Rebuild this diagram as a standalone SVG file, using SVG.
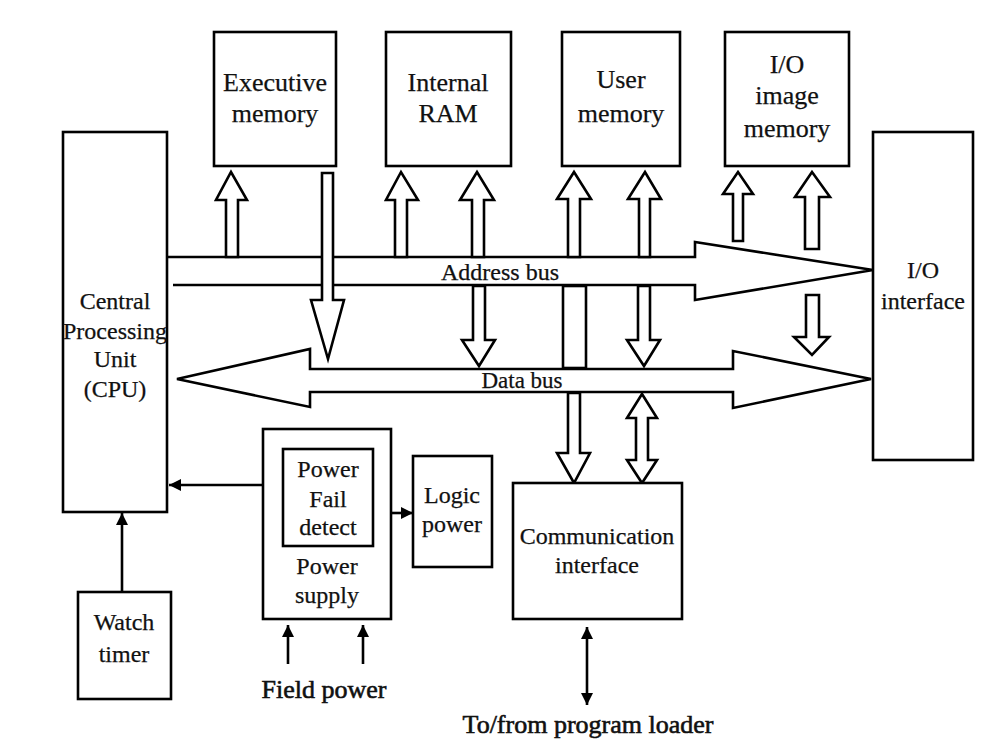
<svg xmlns="http://www.w3.org/2000/svg" width="999" height="749" viewBox="0 0 999 749">
<defs>
<style>
.box{fill:#fff;stroke:#000;stroke-width:2.6}
.bus{fill:#fff;stroke:#000;stroke-width:2.6;stroke-linejoin:miter}
.blk{fill:#fff;stroke:#000;stroke-width:2.6;stroke-linejoin:miter}
.thin{fill:none;stroke:#000;stroke-width:2.6}
.t{font-family:"Liberation Serif","Times New Roman",serif;font-size:24px;text-anchor:middle;fill:#111;stroke:#111;stroke-width:0.25}
.top{font-size:26px}
.big{font-size:26px;stroke-width:0.6}
</style>
<marker id="ah" viewBox="0 0 10 10" refX="10" refY="5" markerWidth="13" markerHeight="12" markerUnits="userSpaceOnUse" orient="auto-start-reverse">
<path d="M0,0 L10,5 L0,10 Z" fill="#000"/>
</marker>
</defs>
<rect width="999" height="749" fill="#fff"/>

<g id="connectors">
<path id="address-bus" class="bus" d="M167,257 H695 V242 L873,270 L695,300 V285 H173"/>
<path id="data-bus" class="bus" d="M310,369 V349 L177,379 L310,407 V392 H733 V408 L871,379 L733,351 V369 Z"/>
<polygon class="blk" points="226,257 226,200 216,200 231,172 247,200 238,200 238,257"/>
<polygon class="blk" points="395,257 395,200 386,200 401,172 418,200 407,200 407,257"/>
<polygon class="blk" points="472,257 472,200 460,200 477,172 494,200 484,200 484,257"/>
<polygon class="blk" points="568,257 568,199 557,199 574,172 591,199 580,199 580,257"/>
<polygon class="blk" points="639,257 639,199 628,199 645,172 661,199 650,199 650,257"/>
<polygon class="blk" points="733,241 733,194 723,194 738,172 753,194 743,194 743,241"/>
<polygon class="blk" points="805,249 805,197 795,197 812,172 830,197 819,197 819,249"/>
<polygon class="blk" points="322,173 333,173 333,300 344,300 328,359 311,300 322,300"/>
<polygon class="blk" points="473,286 485,286 485,340 495,340 479,366 462,340 473,340"/>
<rect class="blk" x="563" y="286" width="23" height="82"/>
<polygon class="blk" points="638,286 650,286 650,340 660,340 644,366 627,340 638,340"/>
<polygon class="blk" points="806,295 819,295 819,337 829,337 812,355 794,337 806,337"/>
<polygon class="blk" points="568,393 580,393 580,453 590,453 574,483 557,453 568,453"/>
<polygon class="blk" points="642,394 657,418 648,418 648,460 657,460 642,483 627,460 636,460 636,418 627,418"/>
<line class="thin" x1="283" y1="485" x2="169" y2="485" marker-end="url(#ah)"/>
<line class="thin" x1="391" y1="513" x2="413" y2="513" marker-end="url(#ah)"/>
<line class="thin" x1="122" y1="592" x2="122" y2="513" marker-end="url(#ah)"/>
<line class="thin" x1="288" y1="664" x2="288" y2="625" marker-end="url(#ah)"/>
<line class="thin" x1="363" y1="664" x2="363" y2="625" marker-end="url(#ah)"/>
<line class="thin" x1="587" y1="627" x2="587" y2="705" marker-start="url(#ah)" marker-end="url(#ah)"/>
<text class="t" x="500" y="280">Address bus</text>
<text class="t" x="522" y="388" style="font-size:23px">Data bus</text>
</g>

<g id="executive-memory">
<rect class="box" x="214" y="32" width="122" height="134"/>
<text class="t top" x="275" y="91">Executive</text>
<text class="t top" x="275" y="122">memory</text>
</g>
<g id="internal-ram">
<rect class="box" x="386" y="32" width="125" height="134"/>
<text class="t top" x="448" y="91">Internal</text>
<text class="t top" x="448" y="122">RAM</text>
</g>
<g id="user-memory">
<rect class="box" x="562" y="32" width="118" height="134"/>
<text class="t top" x="621" y="88">User</text>
<text class="t top" x="621" y="122">memory</text>
</g>
<g id="io-image-memory">
<rect class="box" x="725" y="32" width="124" height="134"/>
<text class="t top" x="787" y="73">I/O</text>
<text class="t top" x="787" y="104">image</text>
<text class="t top" x="787" y="137">memory</text>
</g>
<g id="cpu">
<rect class="box" x="63" y="132" width="104" height="380"/>
<text class="t" x="115" y="309">Central</text>
<text class="t" x="115" y="339">Processing</text>
<text class="t" x="115" y="367">Unit</text>
<text class="t" x="115" y="397">(CPU)</text>
</g>
<g id="io-interface">
<rect class="box" x="873" y="132" width="100" height="328"/>
<text class="t" x="923" y="278">I/O</text>
<text class="t" x="923" y="309">interface</text>
</g>
<g id="power-supply">
<rect class="box" x="263" y="429" width="128" height="190"/>
<text class="t" x="327" y="574">Power</text>
<text class="t" x="327" y="603">supply</text>
</g>
<g id="power-fail-detect">
<rect class="box" x="283" y="449" width="90" height="97"/>
<text class="t" x="328" y="477">Power</text>
<text class="t" x="328" y="507">Fail</text>
<text class="t" x="328" y="535">detect</text>
</g>
<g id="logic-power">
<rect class="box" x="413" y="456" width="79" height="111"/>
<text class="t" x="452" y="503">Logic</text>
<text class="t" x="452" y="532">power</text>
</g>
<g id="communication-interface">
<rect class="box" x="513" y="483" width="169" height="136"/>
<text class="t" x="597" y="544">Communication</text>
<text class="t" x="597" y="573">interface</text>
</g>
<g id="watch-timer">
<rect class="box" x="78" y="592" width="93" height="107"/>
<text class="t" x="124" y="630">Watch</text>
<text class="t" x="124" y="662">timer</text>
</g>
<g id="field-power">
<text class="t big" x="324" y="698">Field power</text>
</g>
<g id="program-loader">
<text class="t big" x="588" y="733">To/from program loader</text>
</g>
</svg>
